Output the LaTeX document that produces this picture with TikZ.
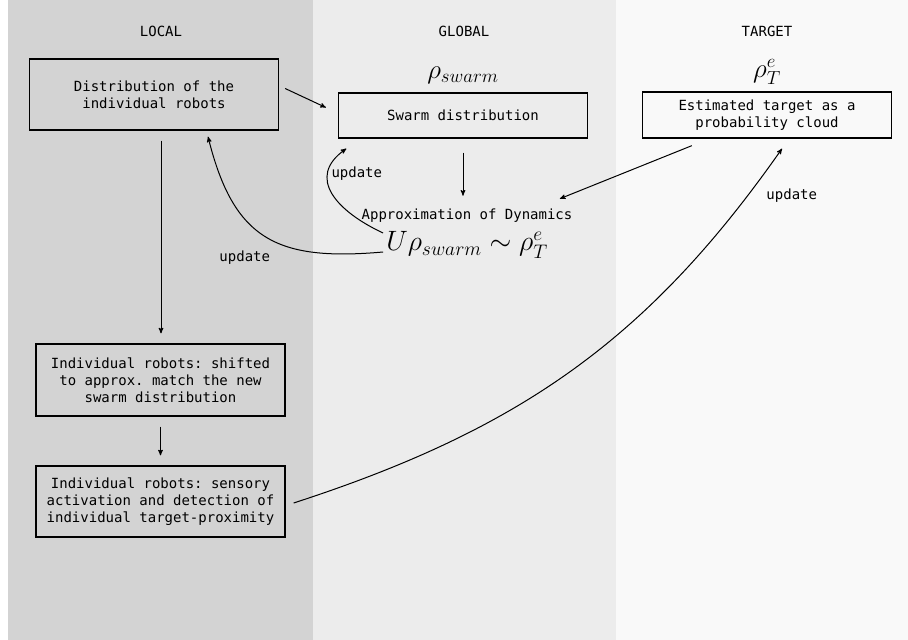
\RequirePackage{fix-cm}
\documentclass[tikz,border=0pt]{standalone}
\usepackage{amsmath}
\usepackage{fontspec}
\setmonofont{DejaVu Sans Mono}
\usetikzlibrary{positioning}
\usetikzlibrary{arrows}
\definecolor{localgray}{HTML}{D3D3D3}
\definecolor{globalgray}{HTML}{ECECEC}
\definecolor{targetgray}{HTML}{F9F9F9}
\tikzset{
    node distance=40pt,
    every node/.append style={
        font=\ttfamily\fontsize{14}{17}\selectfont
    },
    box/.style={
        draw,
        line width=1.3pt,
        minimum width=249pt,
        align=center
    },
    mathlabel/.style={
        inner sep=1pt,
        font=\fontsize{27}{31}\selectfont
    },
    bigmath/.style={
        inner sep=1pt,
        font=\fontsize{28}{32}\selectfont
    },
    gap/.style={
        shorten <=10pt,
        shorten >=10pt
    },
    every edge/.append style={
        draw,
        ->,>=stealth',
        line width=1pt
    }
}
\begin{document}
\begin{tikzpicture}[x=1pt,y=1pt]
                    \useasboundingbox (0,0) rectangle (908,-640);
                    \fill[localgray] (8,0) rectangle (313,-640);
                    \fill[globalgray] (313,0) rectangle (616,-640);
                    \fill[targetgray] (616,0) rectangle (908,-640);

                    \node (local) at (161,-31) {LOCAL};
                    \node (global) at (464,-31) {GLOBAL};
                    \node (target) at (767,-31) {TARGET};

                    \node[box, minimum height=71pt] (dist) at (154,-94.5) {Distribution of the\\individual robots};
                    \node[box, minimum height=45pt] (swarm) at (463,-115.5) {Swarm distribution};
                    \node[box, minimum height=46pt] (est) at (767,-115) {Estimated target as a\\probability cloud};
                    \node[box, minimum height=72pt] (shift) at (160.5,-380) {Individual robots: shifted\\to approx. match the new\\swarm distribution};
                    \node[box, minimum height=71pt] (sense) at (160.5,-501.5) {Individual robots: sensory\\activation and detection of\\individual target-proximity};

                    \node[mathlabel, above of = swarm] (rhoswarm) {$\rho_{swarm}$};
                    \node[mathlabel, above of = est, yshift=3pt] (rhot) {$\rho_T^e$};
                    \node (approx) at (467,-216) {Approximation of Dynamics};
                    \node[bigmath, below of = approx, yshift=11pt] (formula) {$U\rho_{swarm}\sim\rho_T^e$};

                    \draw ([shift={(6pt,6pt)}]dist.east) edge ([shift={(-12pt,8pt)}]swarm.west);
                    \draw ([xshift=7pt]dist.south) edge[gap] ([xshift=0.5pt]shift.north);
                    \draw (shift) edge[gap] (sense);
                    \draw ([yshift=-14pt]swarm.south) edge ([yshift=10pt]approx.north -| swarm.south);
                    \draw ([shift={(50pt,-7pt)}]est.south west) edge ([shift={(-16pt,7pt)}]approx.north east);

                    \draw ([shift={(-2pt,12pt)}]formula.west) edge[out=155, in=215, looseness=1.4]
                        node[pos=0.72, right] {update} ([shift={(8.5pt,-10pt)}]swarm.south west);
                    \draw ([shift={(-2pt,-7pt)}]formula.west) edge[out=185, in=-76, looseness=1.3]
                        node[pos=0.45, below left, yshift=-6pt] {update} ([shift={(54pt,-6pt)}]dist.south);
                    \draw ([shift={(8pt,-1.5pt)}]sense.east) edge[out=18, in=235]
                        node[pos=0.915, right, xshift=15pt] {update} ([shift={(15pt,-10pt)}]est.south);

                \end{tikzpicture}
\end{document}
